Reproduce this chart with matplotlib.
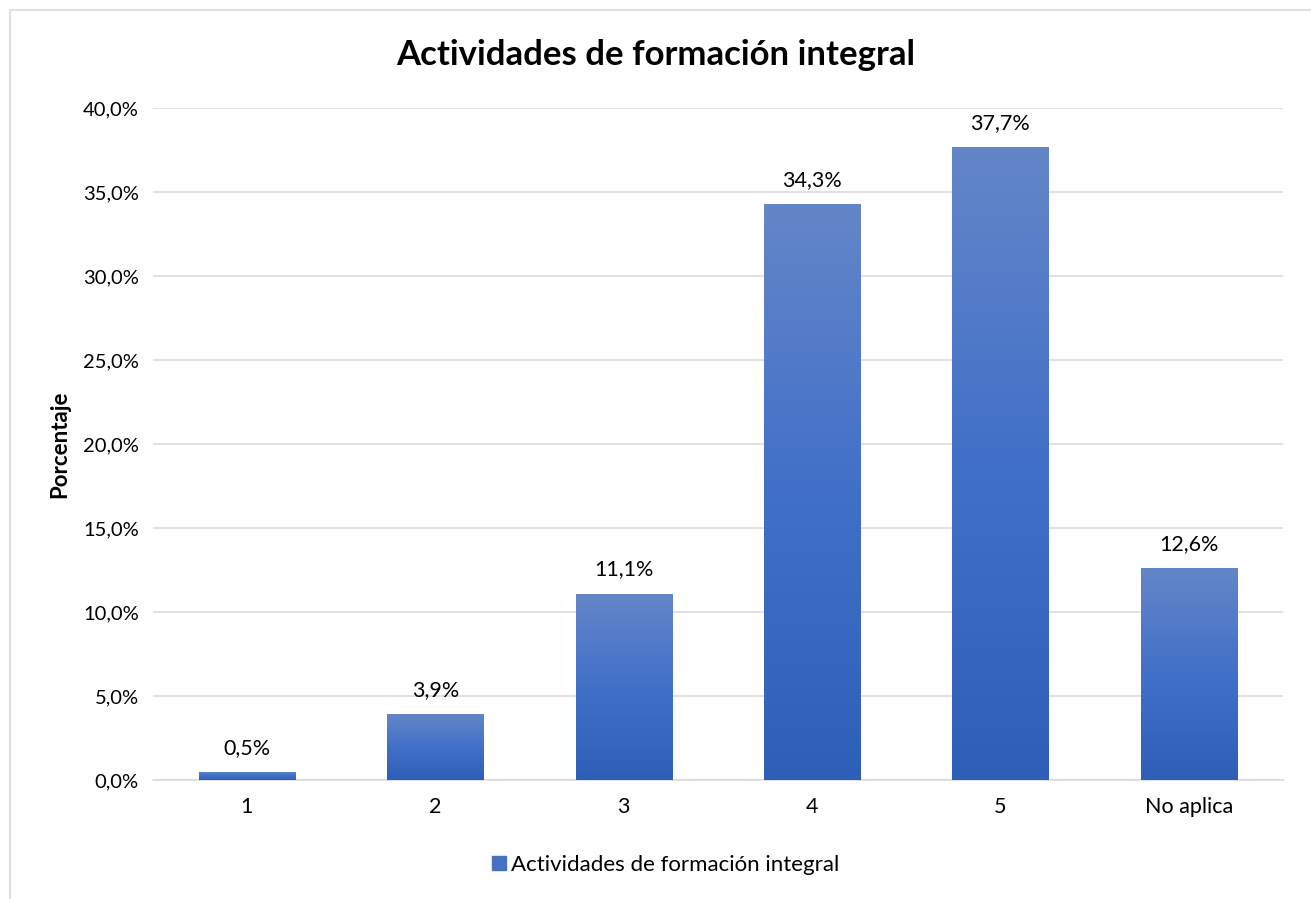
import matplotlib
matplotlib.use("Agg")
import matplotlib.pyplot as plt
import numpy as np
from matplotlib.patches import Rectangle
from matplotlib.colors import LinearSegmentedColormap

categories = ["1", "2", "3", "4", "5", "No aplica"]
values = [0.5, 3.9, 11.1, 34.3, 37.7, 12.6]
series_name = "Actividades de formación integral"
yticks = [0, 5, 10, 15, 20, 25, 30, 35, 40]

plt.rcParams['font.family'] = ['Lato', 'DejaVu Sans']

W, H = 1311, 899
fig = plt.figure(figsize=(W / 100, H / 100), dpi=100)
ax = fig.add_axes([152.75 / W, 1 - 780 / H, (1283 - 152.75) / W, (780 - 108) / H])

# outer chart frame
fig.patches.append(Rectangle((9.5 / W, -0.1), 1.2, 1 - 9.5 / H + 0.1, transform=fig.transFigure,
                             fill=False, edgecolor="#D9D9D9", linewidth=1.2))

x = np.arange(len(categories))
bars = ax.bar(x, values, width=0.51, color="#4472C4", zorder=2, label=series_name)

cmap = LinearSegmentedColormap.from_list("g", ["#2E5FB8", "#4170C8", "#6486C9"])
grad = np.linspace(0, 1, 256).reshape(-1, 1)
for b in bars:
    x0, y0 = b.get_x(), b.get_y()
    w, h = b.get_width(), b.get_height()
    im = ax.imshow(grad, cmap=cmap, aspect="auto", origin="lower",
                   extent=(x0, x0 + w, y0, y0 + h), zorder=3)
    im.set_clip_path(b)

for xi, v in zip(x, values):
    ax.annotate(f"{v:.1f}%".replace(".", ","), (xi, v), xytext=(0, 14), textcoords="offset pixels",
                ha="center", va="bottom", fontsize=15.5, color="#000000")

ax.set_xlim(-0.5, len(categories) - 0.5)
ax.set_ylim(0, 40)
ax.set_yticks(yticks)
ax.set_yticklabels([f"{t:.1f}%".replace(".", ",") for t in yticks], fontsize=14.5)
ax.set_xticks(x)
ax.set_xticklabels(categories, fontsize=15.5)
ax.tick_params(axis="both", length=0, pad=10, colors="#000000")
ax.tick_params(axis="x", pad=12)
ax.grid(axis="y", color="#D9D9D9", linewidth=1.1, zorder=0)
for s in ["top", "right", "left"]:
    ax.spines[s].set_visible(False)
ax.spines["bottom"].set_color("#D9D9D9")
ax.spines["bottom"].set_linewidth(1.1)

ax.set_ylabel("Porcentaje", fontsize=16, fontweight="bold", labelpad=9)
fig.text(0.5, 1 - 55 / H, "Actividades de formación integral", ha="center", va="center",
         fontsize=25, fontweight="bold")

handle = Rectangle((0, 0), 1, 1, color="#4472C4")
fig.legend([handle], [series_name], loc="center", bbox_to_anchor=(0.508, 1 - 865 / H),
           frameon=False, fontsize=16, handlelength=0.6, handleheight=0.6, handletextpad=0.25)

fig.savefig("out.png", dpi=100)
